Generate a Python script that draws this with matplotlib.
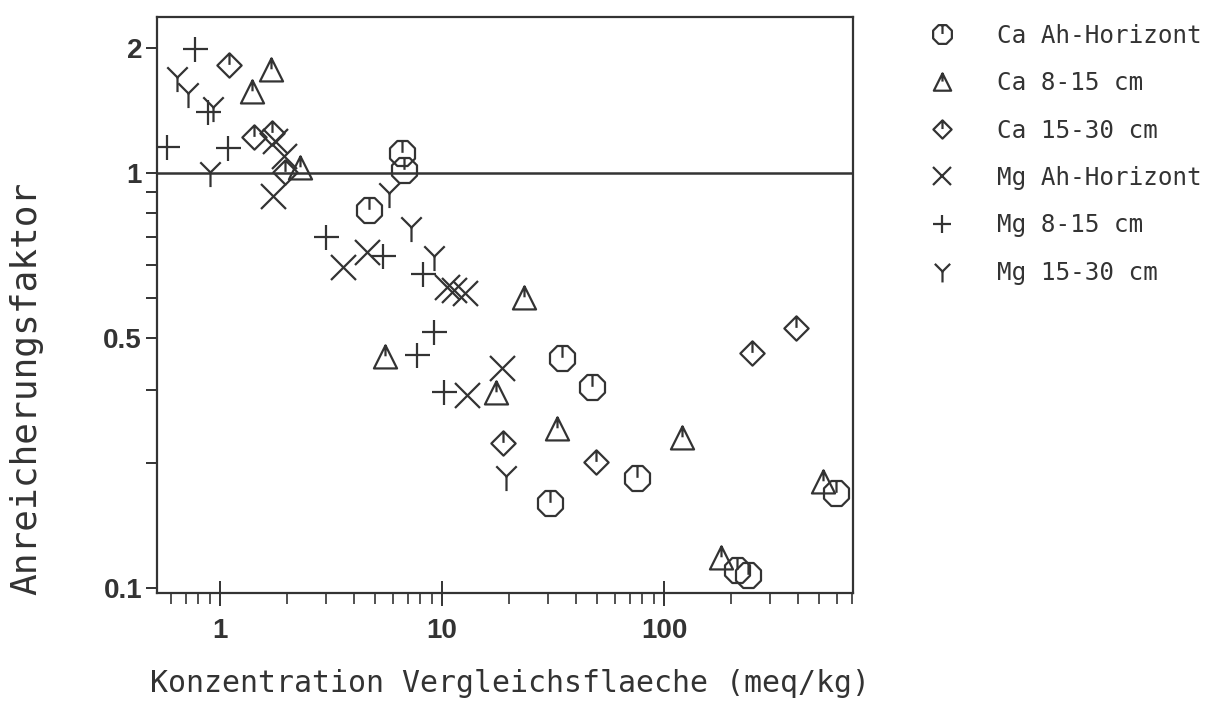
import numpy as np
import matplotlib
matplotlib.use("Agg")
import matplotlib.pyplot as plt
from matplotlib.path import Path
from matplotlib.ticker import FixedLocator, FixedFormatter, NullFormatter

# === Data ===
ca_ah_x = [6.60, 6.74, 4.69, 34.7, 47.4, 75.6, 30.7, 595, 213, 239]
ca_ah_y = [1.115, 1.015, 0.813, 0.358, 0.305, 0.184, 0.160, 0.169, 0.110, 0.107]

ca_815_x = [1.70, 1.394, 2.29, 23.4, 5.54, 17.5, 33.0, 120.5, 520, 180.6]
ca_815_y = [1.768, 1.565, 1.026, 0.499, 0.360, 0.294, 0.241, 0.229, 0.180, 0.118]

ca_1530_x = [1.098, 1.423, 1.715, 1.963, 18.8, 49.4, 249, 393]
ca_1530_y = [1.818, 1.219, 1.246, 1.004, 0.223, 0.201, 0.368, 0.422]

mg_ah_x = [1.769, 1.942, 1.733, 3.58, 4.59, 10.53, 11.33, 12.69, 18.63, 12.96]
mg_ah_y = [1.192, 1.097, 0.879, 0.593, 0.644, 0.530, 0.522, 0.513, 0.338, 0.291]

mg_815_x = [0.772, 0.577, 1.086, 0.883, 3.00, 5.42, 8.21, 9.20, 7.72, 10.2]
mg_815_y = [1.987, 1.153, 1.147, 1.401, 0.700, 0.630, 0.570, 0.413, 0.364, 0.296]

mg_1530_x = [0.640, 0.718, 0.930, 0.901, 5.77, 7.25, 9.20, 19.4]
mg_1530_y = [1.701, 1.556, 1.440, 1.004, 0.894, 0.740, 0.630, 0.186]

labels = ["Ca Ah-Horizont", "Ca 8-15 cm", "Ca 15-30 cm",
          "Mg Ah-Horizont", "Mg 8-15 cm", "Mg 15-30 cm"]

y_major = [0.1, 0.4, 1, 2]
y_major_labels = ["0.1", "0.5", "1", "2"]   # as printed in the original
y_minor = [0.2, 0.3, 0.5, 0.6, 0.7, 0.8, 0.9]
x_major = [1, 10, 100]
x_major_labels = ["1", "10", "100"]

INK = "#333333"


# === Plotter-style markers ===
def octagon_tick():
    ang = np.deg2rad(22.5 + 45 * np.arange(8))
    pts = list(zip(np.cos(ang), np.sin(ang)))
    verts = pts + [pts[0], (0, 0.92), (0, 0.05)]
    codes = [Path.MOVETO] + [Path.LINETO] * 7 + [Path.CLOSEPOLY, Path.MOVETO, Path.LINETO]
    return Path(verts, codes)


def triangle_tick():
    verts = [(0, 1), (-0.95, -0.9), (0.95, -0.9), (0, 1), (0, 1), (0, 0.1)]
    codes = [Path.MOVETO, Path.LINETO, Path.LINETO, Path.CLOSEPOLY, Path.MOVETO, Path.LINETO]
    return Path(verts, codes)


def diamond_tick():
    verts = [(0, 1), (1, 0), (0, -1), (-1, 0), (0, 1), (0, 1), (0, 0.05)]
    codes = [Path.MOVETO, Path.LINETO, Path.LINETO, Path.LINETO, Path.CLOSEPOLY,
             Path.MOVETO, Path.LINETO]
    return Path(verts, codes)


def y_shape():
    verts = [(-0.7, 0.7), (0, 0), (0.7, 0.7), (0, 0), (0, -1)]
    codes = [Path.MOVETO, Path.LINETO, Path.LINETO, Path.MOVETO, Path.LINETO]
    return Path(verts, codes)


series = [
    (ca_ah_x, ca_ah_y, octagon_tick(), 18),
    (ca_815_x, ca_815_y, triangle_tick(), 17.5),
    (ca_1530_x, ca_1530_y, diamond_tick(), 17.5),
    (mg_ah_x, mg_ah_y, "x", 18),
    (mg_815_x, mg_815_y, "+", 18),
    (mg_1530_x, mg_1530_y, y_shape(), 21),
]

fig = plt.figure(figsize=(12.11, 7.17), dpi=100)
ax = fig.add_axes([0.1299, 0.1729, 0.5742, 0.8038])
ax.set_xscale("log")
ax.set_yscale("log")
ax.set_xlim(0.522, 708)
ax.set_ylim(0.097, 2.38)

handles = []
for (xs, ys, mk, ms), lab in zip(series, labels):
    ln, = ax.plot(xs, ys, linestyle="none", marker=mk, markersize=ms,
                  markerfacecolor="none", markeredgecolor=INK,
                  markeredgewidth=1.6, label=lab)
    handles.append(ln)

ax.axhline(1, color=INK, lw=1.8, zorder=0)

for sp in ax.spines.values():
    sp.set_linewidth(1.6)
    sp.set_color(INK)

# ticks
ax.yaxis.set_major_locator(FixedLocator(y_major))
ax.yaxis.set_major_formatter(FixedFormatter(y_major_labels))
ax.yaxis.set_minor_locator(FixedLocator(y_minor))
ax.yaxis.set_minor_formatter(NullFormatter())
ax.xaxis.set_major_locator(FixedLocator(x_major))
ax.xaxis.set_major_formatter(FixedFormatter(x_major_labels))
ax.xaxis.set_minor_locator(FixedLocator(
    [m * 10.0 ** e for e in (-1, 0, 1, 2) for m in range(2, 10)]))
ax.xaxis.set_minor_formatter(NullFormatter())

ax.tick_params(axis="y", which="both", direction="out", length=8, width=1.4,
               color=INK, pad=3, right=False)
ax.tick_params(axis="x", which="major", direction="inout", length=18, width=1.4,
               color=INK, pad=9, top=False)
ax.tick_params(axis="x", which="minor", direction="out", length=8, width=1.2,
               color=INK, top=False)
for t in ax.get_xticklabels() + ax.get_yticklabels():
    t.set_fontfamily("Liberation Sans")
    t.set_fontweight("bold")
    t.set_fontsize(20)
    t.set_color(INK)

# axis labels
fig.text(0.022, 0.458, "Anreicherungsfaktor", rotation=90, ha="center", va="center",
         family="DejaVu Sans Mono", fontsize=26, color=INK)
fig.text(0.421, 0.047, "Konzentration Vergleichsflaeche (meq/kg)", ha="center",
         va="center", family="DejaVu Sans Mono", fontsize=21.5, color=INK)

# legend
leg = ax.legend(handles=handles, labels=labels, loc="upper left",
                bbox_to_anchor=(924 / 1211, 1 - 24 / 717), bbox_transform=fig.transFigure,
                frameon=False, handlelength=1.5, handletextpad=1.5, labelspacing=0.96,
                borderpad=0, borderaxespad=0, markerscale=0.75,
                prop={"family": "DejaVu Sans Mono", "size": 17.5})
for txt in leg.get_texts():
    txt.set_color(INK)

fig.savefig("out.png", dpi=100)
